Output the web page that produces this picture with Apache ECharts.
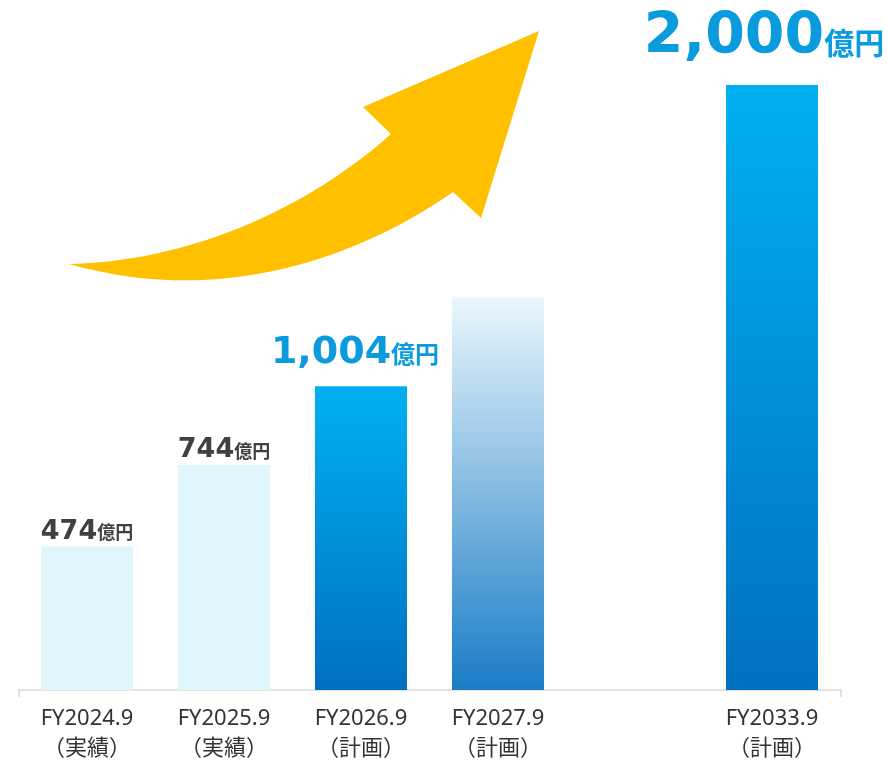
<!DOCTYPE html>
<html><head><meta charset="utf-8">
<script src="https://cdn.jsdelivr.net/npm/echarts@6/dist/echarts.min.js"></script>
<style>html,body{margin:0;padding:0;background:#fff}#c{width:887px;height:761px}</style>
</head><body><div id="c"></div>
<script>
const categories = ['FY2024.9\n（実績）','FY2025.9\n（実績）','FY2026.9\n（計画）','FY2027.9\n（計画）','','FY2033.9\n（計画）'];
const values = [474, 744, 1004, 1300, null, 2000];
const valueLabels = ['474', '744', '1,004', '', '', '2,000'];
const unit = '億円';

const grad = (a,b) => ({type:'linear', x:0, y:0, x2:0, y2:1, colorStops:[{offset:0,color:a},{offset:1,color:b}]});
const darkBlue = () => grad('#00b0f0','#0070c0');
const fadeBlue = () => grad('#ebf7fc','#1a7cc6');
const barColors = ['#e1f5fd','#e1f5fd',darkBlue(),fadeBlue(),null,darkBlue()];

const font = "'DejaVu Sans', Verdana, 'Noto Sans CJK JP', sans-serif";
const labelStyles = [
  {num:27, unit:18, color:'#404040', dist:1, dx:0},
  {num:27, unit:18, color:'#404040', dist:1, dx:0},
  {num:38, unit:24, color:'#0a9ade', dist:14, dx:-6},
  null, null,
  {num:57, unit:30, color:'#0a9ade', dist:18, dx:-8}
];

const data = values.map((v,i)=>{
  if (v === null) return '-';
  const item = {value:v, itemStyle:{color:barColors[i]}};
  const ls = labelStyles[i];
  if (ls && valueLabels[i]) {
    item.label = {
      show:true, position:'top', distance:ls.dist, offset:[ls.dx,0],
      formatter: '{n|' + valueLabels[i] + '}{u|' + unit + '}',
      rich:{
        n:{fontSize:ls.num, fontWeight:'bold', color:ls.color, fontFamily:font, verticalAlign:'bottom', lineHeight:ls.num},
        u:{fontSize:ls.unit, fontWeight:'bold', color:ls.color, fontFamily:"'Noto Sans CJK JP', sans-serif", verticalAlign:'bottom', lineHeight:ls.num, padding:[0,0,Math.round(ls.num*0.15),0]}
      }
    };
  }
  return item;
});

// decorative arrow outline (cubic curves sampled)
function cubic(p0,p1,p2,p3,n){
  const pts=[];
  for(let k=0;k<=n;k++){const t=k/n,u=1-t;
    pts.push([u*u*u*p0[0]+3*u*u*t*p1[0]+3*u*t*t*p2[0]+t*t*t*p3[0],
              u*u*u*p0[1]+3*u*u*t*p1[1]+3*u*t*t*p2[1]+t*t*t*p3[1]]);}
  return pts;
}
const arrowPts = [].concat(
  cubic([69,264],[180,262],[300,215],[391,134],40),
  [[363,107],[539,31],[481,218]],
  cubic([453,192],[370,250],[230,310],[69,264],40)
);

const chart = echarts.init(document.getElementById('c'), null, {renderer:'canvas'});
chart.setOption({
  animation:false,
  grid:{left:18.5, right:46.5, top:85, bottom:71, containLabel:false, outerBoundsMode:'none'},
  xAxis:{
    type:'category', data:categories,
    axisLine:{lineStyle:{color:'#d9d9d9', width:1.5}},
    axisTick:{show:true, length:7, lineStyle:{color:'#d9d9d9', width:1.5}, interval:(i)=> i===0 || i===6},
    axisLabel:{color:'#333', fontSize:22, lineHeight:30, margin:14, interval:0, fontFamily:"'Noto Sans', 'Noto Sans CJK JP', sans-serif"}
  },
  yAxis:{type:'value', min:0, max:2000, show:false, splitLine:{show:false}},
  series:[{type:'bar', data:data, barWidth:92}],
  graphic:[{
    type:'polygon', z:10,
    shape:{points:arrowPts},
    style:{fill:'#ffc000'}
  }]
});
</script></body></html>
